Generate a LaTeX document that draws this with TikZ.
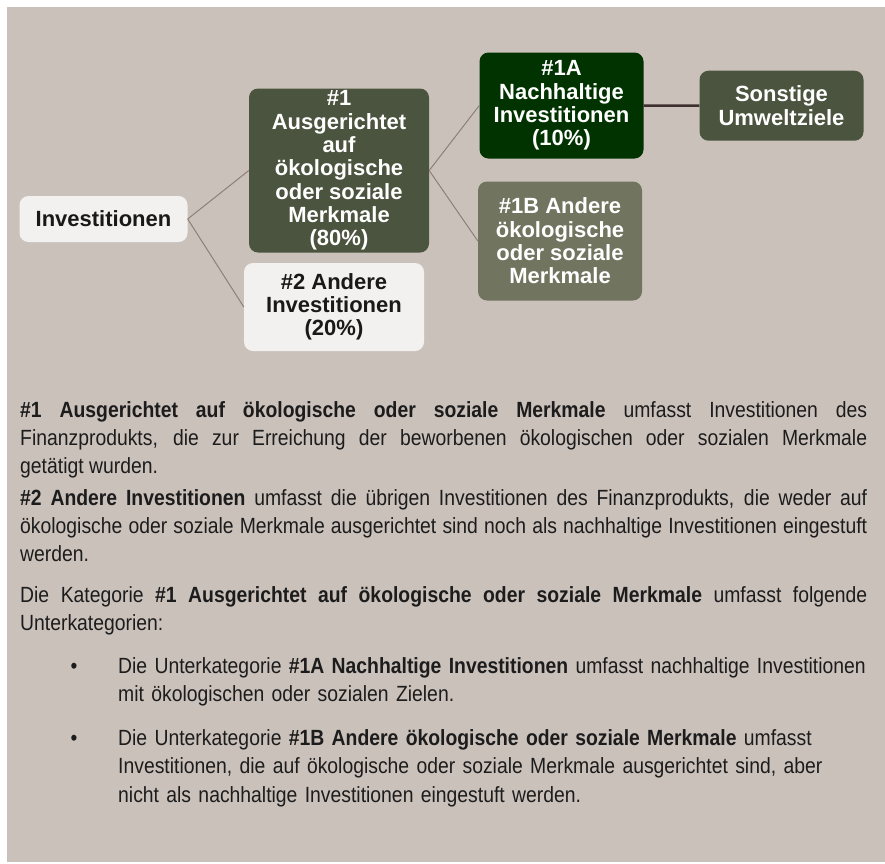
\documentclass[tikz,border=0pt]{standalone}
\usepackage{fontspec}
\setmainfont[FakeStretch=0.88]{Liberation Sans}
\newfontfamily\boxfont{Liberation Sans}
\definecolor{bgc}{HTML}{CBC1BB}
\definecolor{olive}{HTML}{4B543E}
\definecolor{deepgreen}{HTML}{003300}
\definecolor{greygreen}{HTML}{717560}
\definecolor{lightbox}{HTML}{F2F1EF}
\definecolor{thinline}{HTML}{8C8079}
\definecolor{thickline}{HTML}{3C3030}
\definecolor{bodytext}{HTML}{1C1C1C}
\begin{document}
\begin{tikzpicture}[x=1pt,y=-1pt,
  boxnode/.style={rounded corners=9pt, inner sep=0pt, align=center,
    font=\boxfont\bfseries\fontsize{22}{23.3}\selectfont},
  darkbox/.style={boxnode, text=white},
  lightnode/.style={boxnode, fill=lightbox, text=black!90},
  thinconn/.style={draw=thinline, line width=1pt},
  thickconn/.style={draw=thickline, line width=2.5pt},
  para/.style={anchor=base west, inner sep=0pt, text width=847pt, align=justify,
    text=bodytext, font=\fontsize{22}{28.3}\selectfont},
  bulletpara/.style={anchor=base west, inner sep=0pt, text width=760pt, align=left,
    text=bodytext, font=\fontsize{22}{28.7}\selectfont},
  bulletdot/.style={anchor=base, inner sep=0pt, text=bodytext, font=\fontsize{22}{28}\selectfont}
]
\useasboundingbox (0,0) rectangle (885,863);
\fill[bgc] (7,7) rectangle (885,862);

\node[lightnode, minimum width=168pt, minimum height=46pt] (inv) at (103.5,219) {Investitionen};
\node[darkbox, fill=olive, minimum width=180pt, minimum height=164pt] (n1) at (339,170.5)
  {\#1\\Ausgerichtet\\auf\\ökologische\\oder soziale\\Merkmale\\(80\%)};
\node[lightnode, minimum width=180pt, minimum height=88pt] (n2) at (334,307)
  {\#2 Andere\\Investitionen\\(20\%)};
\node[darkbox, fill=deepgreen, minimum width=164pt, minimum height=106pt] (n1a) at (561.5,105.5)
  {\#1A\\Nachhaltige\\Investitionen\\(10\%)};
\node[darkbox, fill=olive, minimum width=164pt, minimum height=70pt] (sonst) at (781.5,105.7)
  {Sonstige\\Umweltziele};
\node[darkbox, fill=greygreen, minimum width=164pt, minimum height=119pt] (n1b) at (560,241)
  {\#1B Andere\\ökologische\\oder soziale\\Merkmale};

\draw[thinconn] (inv.east) -- (n1.west);
\draw[thinconn] (inv.east) -- (n2.west);
\draw[thinconn] (n1.east) -- (n1a.west);
\draw[thinconn] (n1.east) -- (n1b.west);
\draw[thickconn] (n1a.east) -- (sonst.west);

\node[para] (p1) at (20,417) {\textbf{\#1 Ausgerichtet auf ökologische oder soziale Merkmale} umfasst Investitionen des\linebreak Finanzprodukts, die zur Erreichung der beworbenen ökologischen oder sozialen Merkmale\linebreak getätigt wurden.};
\node[para] (p2) at (20,505) {\textbf{\#2 Andere Investitionen} umfasst die übrigen Investitionen des Finanzprodukts, die weder auf\linebreak ökologische oder soziale Merkmale ausgerichtet sind noch als nachhaltige Investitionen eingestuft\linebreak werden.};
\node[para] (p3) at (20,602) {Die Kategorie \textbf{\#1 Ausgerichtet auf ökologische oder soziale Merkmale} umfasst folgende\linebreak Unterkategorien:};

\node[bulletdot] (b1) at (74,673) {•};
\node[bulletpara] (t1) at (118,673) {Die Unterkategorie \textbf{\#1A Nachhaltige Investitionen} umfasst nachhaltige Investitionen\\mit ökologischen oder sozialen Zielen.};
\node[bulletdot] (b2) at (74,745) {•};
\node[bulletpara] (t2) at (118,745) {Die Unterkategorie \textbf{\#1B Andere ökologische oder soziale Merkmale} umfasst\\Investitionen, die auf ökologische oder soziale Merkmale ausgerichtet sind, aber\\nicht als nachhaltige Investitionen eingestuft werden.};
\end{tikzpicture}
\end{document}
